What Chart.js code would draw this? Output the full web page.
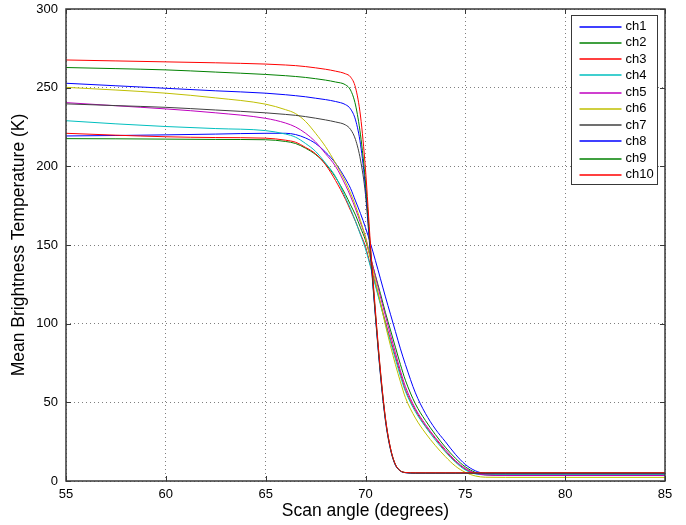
<!DOCTYPE html>
<html>
<head>
<meta charset="utf-8">
<script src="https://cdn.jsdelivr.net/npm/chart.js@4/dist/chart.umd.min.js"></script>
<style>
  html, body { margin: 0; padding: 0; background: #fff; }
</style>
</head>
<body>
<canvas id="c" width="686" height="525"></canvas>
<script>
// scan angles (degrees) at which every channel is sampled
const angles = [55, 57.5, 60, 62.5, 65, 66, 66.5, 67, 67.5, 68, 68.5, 69, 69.25, 69.5, 69.75,
  70, 70.25, 70.5, 70.75, 71, 71.25, 71.5, 71.75, 72, 72.5, 73, 73.5, 74, 74.5, 75, 75.5, 76, 77, 80, 85];

const channelNames = ['ch1', 'ch2', 'ch3', 'ch4', 'ch5', 'ch6', 'ch7', 'ch8', 'ch9', 'ch10'];
const channelColors = ['#0000ff', '#008000', '#ff0000', '#00bfbf', '#bf00bf', '#bfbf00', '#404040', '#0000ff', '#008000', '#ff0000'];

// mean brightness temperature (K)
const ch1 = [219.3, 219.6, 220, 220.5, 221, 221, 220.2, 218, 214.5, 209, 202, 192, 186, 178, 170,
  161, 151, 140, 128.5, 117, 106, 95, 84, 74, 56, 43, 33, 25, 17, 10.5, 6.5, 4.8, 4.5, 4.5, 4.5];
const ch2 = [217.6, 217.5, 217.3, 217.1, 216.9, 215.8, 214.5, 211.5, 207.5, 201.5, 193, 182, 175.5, 169, 161,
  153, 142, 130.5, 119, 107, 96, 85, 74, 64, 49, 38.5, 29.5, 21.5, 14.5, 9, 5.5, 4, 3.6, 3.5, 3.5];
const ch3 = [221, 219.8, 218.8, 218.3, 217.9, 216.6, 215.3, 212, 208, 201, 191, 179, 172, 165, 157,
  149, 137, 125, 113, 101, 90, 79, 68, 58, 45, 35, 27, 19, 12.5, 7.5, 4.8, 4.2, 4, 4, 4];
const ch4 = [229, 227, 225.3, 224, 222.7, 220.5, 218.5, 214.5, 209.5, 202, 193.5, 180, 173, 165, 156.5,
  147.5, 136, 124, 112, 100, 88.5, 77.5, 66.5, 57, 44, 34.5, 26, 18.5, 12, 7, 4.5, 4, 4, 4, 4];
const ch5 = [240.5, 238.5, 236.5, 234, 230.5, 227.5, 225, 221, 215.5, 208, 200, 188, 181, 173, 164,
  155, 142.5, 130, 117, 105, 93, 81.5, 70, 60, 46, 36, 27.5, 20, 13, 8, 5, 3.8, 3.5, 3.5, 3.5];
const ch6 = [250.2, 248.5, 246.5, 243.5, 239.5, 236, 233.5, 228.5, 221, 212.5, 202, 190, 183, 175, 165.5,
  155, 141, 127, 113, 99, 86, 74, 63, 53, 40, 30.5, 22.5, 15.5, 9.5, 5.5, 3.2, 2.4, 2.3, 2.3, 2.3];
const ch7 = [239.7, 238.6, 237.5, 235.8, 234, 233, 232.4, 231.6, 230.6, 229.5, 228.2, 226.3, 223.5, 217, 204,
  182, 143, 104, 67, 38, 20, 10, 6.3, 5.3, 5, 5, 5, 5, 5, 5, 5, 5, 5, 5, 5];
const ch8 = [252.8, 251.2, 249.6, 248, 246.5, 245.5, 244.9, 244.2, 243.3, 242.4, 241.2, 239.2, 236.5, 229.5, 214,
  186, 145, 105, 68, 39, 20.5, 10.2, 6.4, 5.3, 5, 5, 5, 5, 5, 5, 5, 5, 5, 5, 5];
const ch9 = [262.8, 262.1, 261.3, 259.9, 258.4, 257.6, 257.1, 256.5, 255.7, 254.8, 253.6, 251.8, 248.5, 239, 220,
  190, 147, 106, 69, 39.5, 20.8, 10.4, 6.5, 5.4, 5.1, 5.1, 5.1, 5.1, 5.1, 5.1, 5.1, 5.1, 5.1, 5.1, 5.1];
const ch10 = [267.6, 267, 266.4, 265.8, 265, 264.4, 264, 263.4, 262.6, 261.7, 260.5, 258.8, 256.8, 250, 232,
  198, 150, 108, 70, 40, 21, 10.5, 6.5, 5.4, 5.2, 5.2, 5.2, 5.2, 5.2, 5.2, 5.2, 5.2, 5.2, 5.2, 5.2];
const channelValues = [ch1, ch2, ch3, ch4, ch5, ch6, ch7, ch8, ch9, ch10];

// axis ticks
const xTicks = [55, 60, 65, 70, 75, 80, 85];
const yTicks = [0, 50, 100, 150, 200, 250, 300];

Chart.defaults.font.family = '"Liberation Sans", Arial, sans-serif';
Chart.defaults.font.size = 13;
Chart.defaults.color = '#000';

// matlab style box: frame and inward ticks on all four sides
const boxPlugin = {
  id: 'boxPlugin',
  afterDatasetsDraw(chart) {
    const { ctx, chartArea: a, scales } = chart;
    ctx.save();
    ctx.strokeStyle = '#383838';
    ctx.lineWidth = 1;
    ctx.beginPath();
    xTicks.forEach(v => {
      const px = Math.round(scales.x.getPixelForValue(v)) + 0.5;
      ctx.moveTo(px, a.bottom); ctx.lineTo(px, a.bottom - 5);
      ctx.moveTo(px, a.top); ctx.lineTo(px, a.top + 5);
    });
    yTicks.forEach(v => {
      const py = Math.round(scales.y.getPixelForValue(v)) + 0.5;
      ctx.moveTo(a.left, py); ctx.lineTo(a.left + 5, py);
      ctx.moveTo(a.right, py); ctx.lineTo(a.right - 5, py);
    });
    ctx.stroke();
    ctx.lineWidth = 1.5;
    ctx.strokeRect(Math.round(a.left), Math.round(a.top), Math.round(a.width), Math.round(a.height));
    ctx.restore();
  }
};

// legend box in the top right corner of the axes
const legendBox = {
  id: 'legendBox',
  afterDraw(chart) {
    const { ctx, chartArea: a } = chart;
    const w = 86, h = 169;
    const left = Math.round(a.right - 8 - w) + 0.5, top = Math.round(a.top + 6) + 0.5;
    ctx.save();
    ctx.fillStyle = '#fff';
    ctx.fillRect(left, top, w, h);
    ctx.strokeStyle = '#383838';
    ctx.lineWidth = 1;
    ctx.strokeRect(left, top, w, h);
    ctx.font = '13px "Liberation Sans", Arial, sans-serif';
    ctx.textBaseline = 'middle';
    channelNames.forEach((name, i) => {
      const yc = top + 10.5 + i * 16.5;
      // keep the sample on an even pixel row so its colour stays visible
      const y = 2 * Math.floor(yc / 2) + 1;
      ctx.strokeStyle = channelColors[i];
      ctx.lineWidth = 2;
      ctx.globalAlpha = 0.75;
      ctx.beginPath();
      ctx.moveTo(left + 8, y);
      ctx.lineTo(left + 50, y);
      ctx.stroke();
      ctx.globalAlpha = 1;
      ctx.fillStyle = '#000';
      ctx.fillText(name, left + 54, yc);
    });
    ctx.restore();
  }
};

new Chart(document.getElementById('c'), {
  type: 'line',
  data: {
    datasets: channelNames.map((name, i) => ({
      label: name,
      data: angles.map((a, j) => ({ x: a, y: channelValues[i][j] })),
      borderColor: channelColors[i],
      borderWidth: 1,
      pointRadius: 0,
      fill: false,
      cubicInterpolationMode: 'monotone',
      order: -i
    }))
  },
  options: {
    responsive: false,
    animation: false,
    layout: { padding: { top: 9, right: 21, left: 0, bottom: 0 } },
    plugins: {
      legend: { display: false },
      tooltip: { enabled: false }
    },
    scales: {
      x: {
        type: 'linear',
        min: 55,
        max: 85,
        afterBuildTicks: s => { s.ticks = xTicks.map(v => ({ value: v })); },
        ticks: { padding: 6, font: { size: 13 } },
        grid: { color: 'rgba(0,0,0,0.5)', drawTicks: false },
        border: { display: false, dash: [1, 3] },
        title: { display: true, text: 'Scan angle (degrees)', font: { size: 17.5 }, padding: { top: 0, bottom: 3 } },
        afterFit: s => { s.height = 44; s.paddingLeft = 0; s.paddingRight = 0; }
      },
      y: {
        min: 0,
        max: 300,
        afterBuildTicks: s => { s.ticks = yTicks.map(v => ({ value: v })); },
        ticks: { padding: 8, font: { size: 13 } },
        grid: { color: 'rgba(0,0,0,0.5)', drawTicks: false },
        border: { display: false, dash: [1, 3] },
        title: { display: true, text: 'Mean Brightness Temperature (K)', font: { size: 17.5 }, padding: { top: 9, bottom: 0 } },
        afterFit: s => { s.width = 66; s.paddingTop = 0; s.paddingBottom = 0; }
      }
    }
  },
  plugins: [boxPlugin, legendBox]
});
</script>
</body>
</html>
